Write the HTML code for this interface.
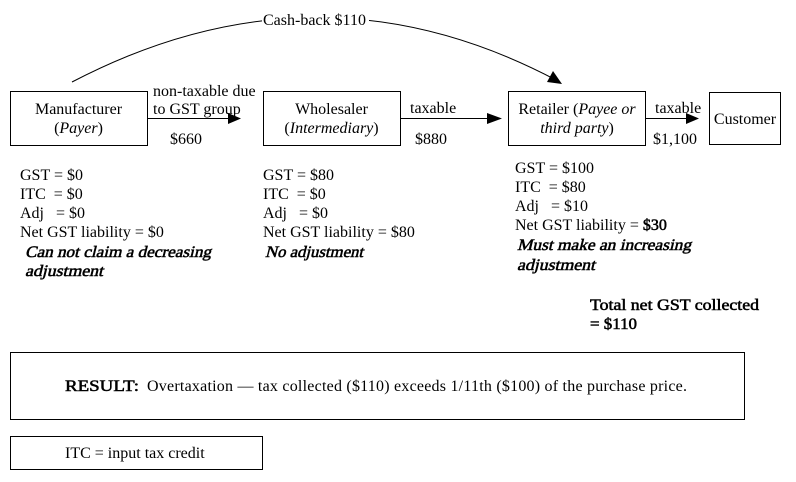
<!DOCTYPE html>
<html>
<head>
<meta charset="utf-8">
<style>
  html, body { margin: 0; padding: 0; background: #fff; }
  svg { display: block; }
  text { font-family: "Liberation Serif", "Times New Roman", serif; font-size: 16px; fill: #000; }
  .fb { font-weight: normal; stroke: #000; stroke-width: 0.55; }
</style>
</head>
<body>
<svg width="796" height="482" viewBox="0 0 796 482" xmlns="http://www.w3.org/2000/svg">
  <rect x="0" y="0" width="796" height="482" fill="#fff"/>

  <!-- Cash-back curve -->
  <path d="M72,82 Q317,-46 556,80" fill="none" stroke="#000" stroke-width="1"/>
  <polygon points="562,84 547,82 553,71" fill="#000"/>
  <rect x="262" y="11" width="107" height="17" fill="#fff"/>
  <text x="263" y="25">Cash-back $110</text>

  <!-- Boxes -->
  <rect x="10.5" y="91.5" width="137" height="54" fill="none" stroke="#000"/>
  <rect x="263.5" y="91.5" width="137" height="54" fill="none" stroke="#000"/>
  <rect x="508.5" y="91.5" width="137" height="54" fill="none" stroke="#000"/>
  <rect x="709.5" y="92.5" width="71" height="52" fill="none" stroke="#000"/>

  <text x="78.5" y="114" text-anchor="middle">Manufacturer</text>
  <text x="78.5" y="133" text-anchor="middle">(<tspan font-style="italic">Payer</tspan>)</text>

  <text x="331.5" y="114" text-anchor="middle">Wholesaler</text>
  <text x="331.5" y="133" text-anchor="middle">(<tspan font-style="italic">Intermediary</tspan>)</text>

  <text x="577" y="114" text-anchor="middle">Retailer (<tspan font-style="italic">Payee or</tspan></text>
  <text x="577" y="133" text-anchor="middle"><tspan font-style="italic">third party</tspan>)</text>

  <text x="745" y="124" text-anchor="middle">Customer</text>

  <!-- Arrows -->
  <line x1="148" y1="118.5" x2="230" y2="118.5" stroke="#000"/>
  <polygon points="228,113 241,118.5 228,124" fill="#000"/>
  <line x1="401" y1="118.5" x2="489" y2="118.5" stroke="#000"/>
  <polygon points="487,113 502,118.5 487,124" fill="#000"/>
  <line x1="646" y1="118.5" x2="688" y2="118.5" stroke="#000"/>
  <polygon points="686,113 699,118.5 686,124" fill="#000"/>

  <!-- Arrow labels -->
  <text x="153" y="96">non-taxable due</text>
  <text x="153" y="114">to GST group</text>
  <text x="170" y="144">$660</text>
  <text x="410" y="113">taxable</text>
  <text x="415" y="144">$880</text>
  <text x="655" y="113">taxable</text>
  <text x="653" y="144">$1,100</text>

  <!-- Manufacturer block -->
  <text x="20" y="180">GST = $0</text>
  <text x="20" y="199">ITC &#160;= $0</text>
  <text x="20" y="218">Adj &#160; = $0</text>
  <text x="20" y="237">Net GST liability = $0</text>
  <g transform="translate(25,257) skewX(-14)"><text class="fb" x="0" y="0" textLength="186" lengthAdjust="spacingAndGlyphs">Can not claim a decreasing</text></g>
  <g transform="translate(25,276) skewX(-14)"><text class="fb" x="0" y="0" textLength="78" lengthAdjust="spacingAndGlyphs">adjustment</text></g>

  <!-- Wholesaler block -->
  <text x="263" y="180">GST = $80</text>
  <text x="263" y="199">ITC &#160;= $0</text>
  <text x="263" y="218">Adj &#160; = $0</text>
  <text x="263" y="237">Net GST liability = $80</text>
  <g transform="translate(265,257) skewX(-14)"><text class="fb" x="0" y="0" textLength="98" lengthAdjust="spacingAndGlyphs">No adjustment</text></g>

  <!-- Retailer block -->
  <text x="515" y="173">GST = $100</text>
  <text x="515" y="192">ITC &#160;= $80</text>
  <text x="515" y="211">Adj &#160; = $10</text>
  <text x="515" y="230">Net GST liability = <tspan class="fb">$30</tspan></text>
  <g transform="translate(517,250) skewX(-14)"><text class="fb" x="0" y="0" textLength="174" lengthAdjust="spacingAndGlyphs">Must make an increasing</text></g>
  <g transform="translate(517,270) skewX(-14)"><text class="fb" x="0" y="0" textLength="78" lengthAdjust="spacingAndGlyphs">adjustment</text></g>

  <text class="fb" x="590" y="310" textLength="169" lengthAdjust="spacingAndGlyphs">Total net GST collected</text>
  <text class="fb" x="590" y="329" textLength="47" lengthAdjust="spacingAndGlyphs">= $110</text>

  <!-- Result box -->
  <rect x="10.5" y="352.5" width="734" height="67" fill="none" stroke="#000"/>
  <text class="fb" x="65" y="391" textLength="74" lengthAdjust="spacingAndGlyphs">RESULT:</text>
  <text x="147" y="391" textLength="540" lengthAdjust="spacing">Overtaxation — tax collected ($110) exceeds 1/11th ($100) of the purchase price.</text>

  <!-- ITC box -->
  <rect x="10.5" y="436.5" width="252" height="33" fill="none" stroke="#000"/>
  <text x="65" y="458">ITC = input tax credit</text>
</svg>
</body>
</html>
